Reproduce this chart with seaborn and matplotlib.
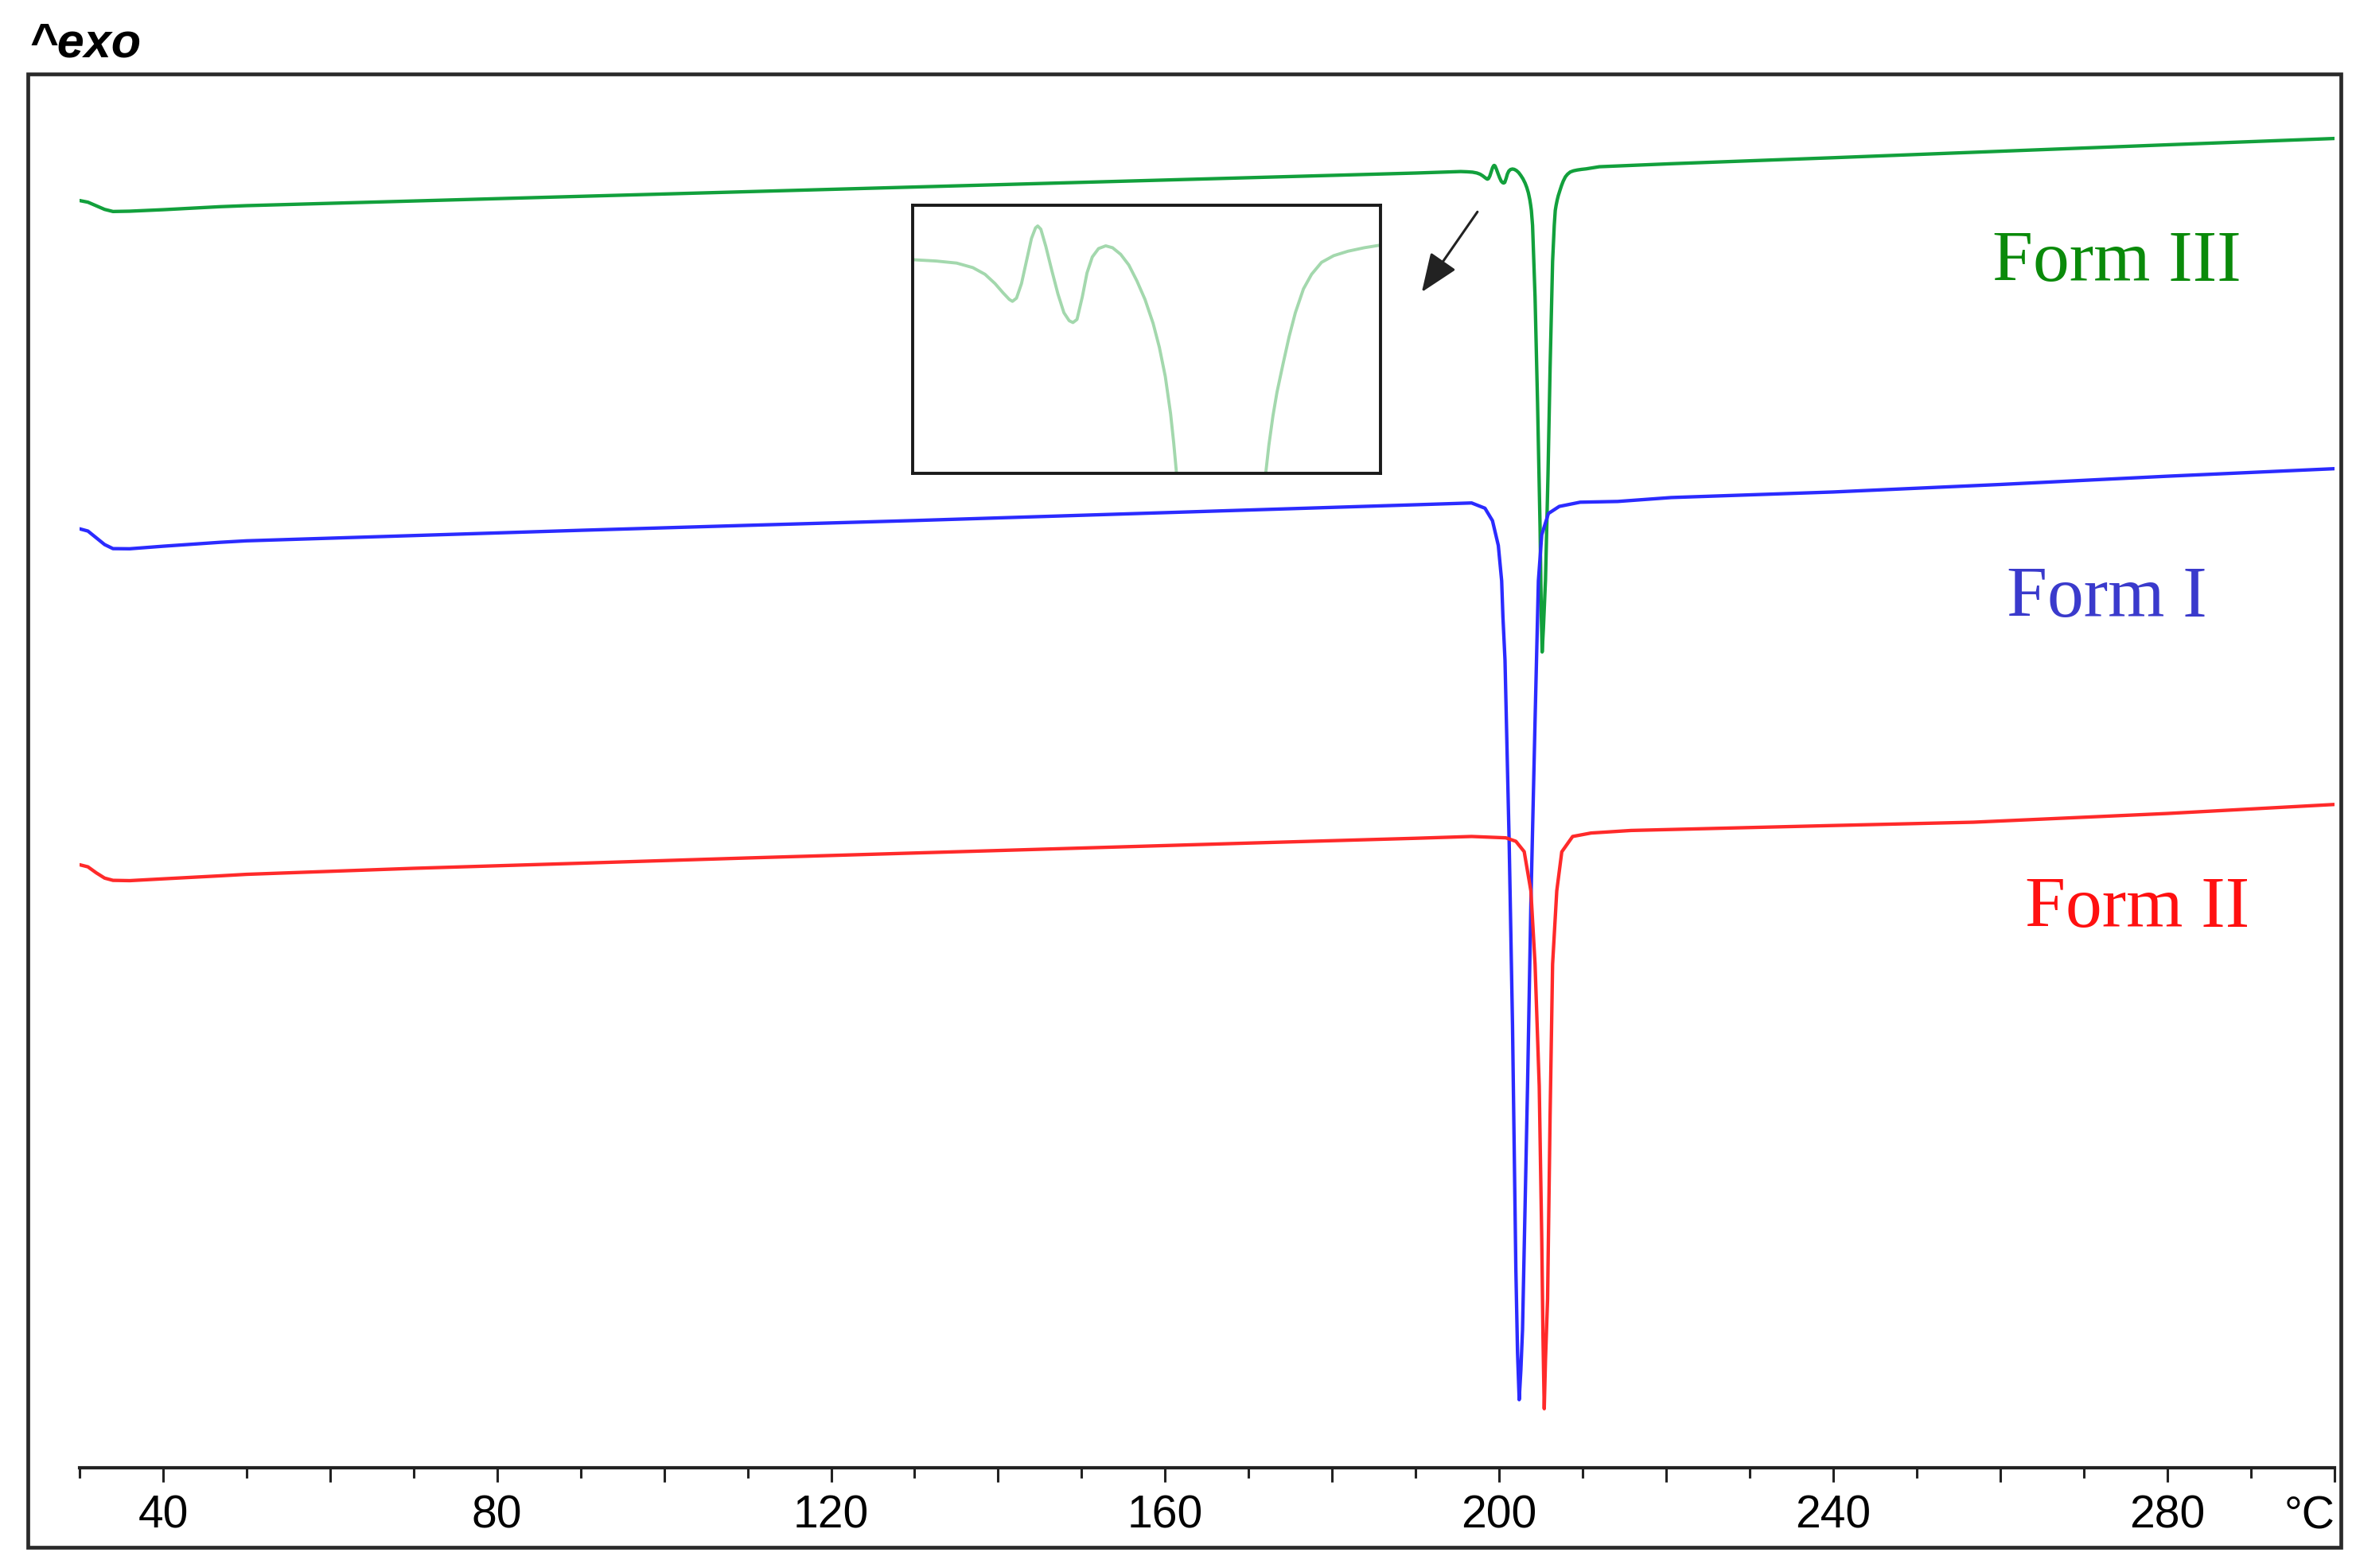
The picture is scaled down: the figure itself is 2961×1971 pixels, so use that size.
import numpy as np
import pandas as pd
import matplotlib
matplotlib.use("Agg")
import matplotlib.pyplot as plt
import seaborn as sns
from matplotlib.ticker import MultipleLocator, FuncFormatter
from matplotlib.patches import Rectangle, FancyArrowPatch

# ---------------- data (temperature in °C, heat flow in arbitrary units, exo up) ----------------
form3_T = [30.0, 31.0, 32.0, 33.0, 34.0, 36.0, 40.0, 46.8, 50.0, 70.0, 90.0, 110.0, 130.0, 150.0, 170.0, 190.0,
           195.40, 196.15, 196.81, 197.33, 197.72, 198.04, 198.30, 198.50, 198.60, 198.73, 198.89, 199.04,
           199.21, 199.34, 199.41, 199.51, 199.67, 199.86, 200.06, 200.25, 200.42, 200.54, 200.67, 200.84,
           200.99, 201.16, 201.36, 201.59, 201.81, 202.07, 202.33, 202.59, 202.85, 203.11, 203.31, 203.50,
           203.67, 203.77, 203.86,
           204.00, 204.30, 204.60, 204.90, 205.05, 205.15, 205.30, 205.55, 205.85, 206.10, 206.40, 206.60,
           206.72, 206.82, 206.95, 207.08, 207.28, 207.47, 207.67, 207.93, 208.19, 208.51, 208.90, 209.36,
           209.88, 210.40,
           212.0, 220.6, 240.0, 260.0, 280.0, 300.0]
form3_HF = [-13.35, -13.46, -13.70, -13.94, -14.08, -14.06, -13.96, -13.76, -13.69, -13.38, -13.07, -12.76,
            -12.45, -12.14, -11.83, -11.52,
            -11.420, -11.436, -11.461, -11.516, -11.597, -11.709, -11.822, -11.902, -11.925, -11.886, -11.709,
            -11.452, -11.162, -11.034, -11.011, -11.050, -11.259, -11.548, -11.838, -12.063, -12.160, -12.182,
            -12.144, -11.870, -11.581, -11.387, -11.285, -11.252, -11.275, -11.355, -11.484, -11.677, -11.902,
            -12.192, -12.482, -12.835, -13.286, -13.640, -14.010,
            -15.00, -19.76, -26.85, -35.10, -41.00, -43.40, -41.80, -38.60, -31.60, -24.50, -17.40, -15.00,
            -14.010, -13.672, -13.318, -13.029, -12.675, -12.353, -12.063, -11.774, -11.597, -11.452, -11.371,
            -11.317, -11.275, -11.243,
            -11.10, -10.90, -10.50, -10.07, -9.64, -9.22]

form1_T = [30.0, 31.0, 32.0, 33.0, 34.0, 36.0, 40.0, 46.8, 50.0, 70.0, 90.0, 110.0, 130.0, 150.0, 170.0, 190.0,
           196.7, 198.3, 199.2, 199.9, 200.3, 200.45, 200.7, 201.2, 201.6, 202.0, 202.2, 202.4, 202.6, 202.8,
           203.4, 203.8, 204.3, 204.7, 205.1, 205.9, 207.2, 209.7, 214.2, 220.6, 240.0, 260.0, 280.0, 300.0]
form1_HF = [-35.20, -35.35, -35.80, -36.25, -36.52, -36.53, -36.36, -36.10, -36.00, -35.65, -35.30, -34.97,
            -34.65, -34.30, -33.95, -33.60, -33.48, -33.83, -34.66, -36.31, -38.66, -41.04, -43.93, -56.08,
            -68.24, -84.45, -90.00, -93.17, -91.20, -88.50, -72.30, -60.15, -47.98, -38.66, -35.60, -34.18,
            -33.71, -33.43, -33.38, -33.12, -32.75, -32.25, -31.70, -31.20]

form2_T = [30.0, 31.0, 32.0, 33.0, 34.0, 36.0, 40.0, 46.8, 50.0, 70.0, 90.0, 110.0, 130.0, 150.0, 170.0, 190.0,
           196.7, 200.8, 202.0, 203.0, 203.8, 204.3, 204.8, 205.1, 205.25, 205.4, 205.55, 205.8, 206.1, 206.4,
           206.9, 207.5, 208.8, 211.0, 215.8, 240.0, 256.8, 280.0, 300.0]
form2_HF = [-57.56, -57.70, -58.10, -58.45, -58.60, -58.62, -58.50, -58.30, -58.20, -57.80, -57.46, -57.11,
            -56.78, -56.45, -56.12, -55.80, -55.68, -55.77, -56.00, -56.69, -59.30, -64.18, -72.30, -82.40,
            -89.00, -93.77, -90.50, -86.47, -74.30, -64.18, -59.30, -56.70, -55.68, -55.45, -55.28, -54.95,
            -54.73, -54.15, -53.55]

form_names = ["Form III", "Form I", "Form II"]
tick_labels_every = 40

# ---------------- styling ----------------
W, H = 2961, 1971
DPI = 200
sns.set_theme(style="white")
plt.rcParams["font.family"] = ["Liberation Sans", "DejaVu Sans"]

line_colors = {"Form III": "#12a03c", "Form I": "#2b2bff", "Form II": "#ff2a2a"}
text_colors = {"Form III": "#0a8a0a", "Form I": "#3a3acc", "Form II": "#ff1010"}

df = pd.concat([
    pd.DataFrame({"T": form3_T, "HF": form3_HF, "form": "Form III"}),
    pd.DataFrame({"T": form1_T, "HF": form1_HF, "form": "Form I"}),
    pd.DataFrame({"T": form2_T, "HF": form2_HF, "form": "Form II"}),
], ignore_index=True)

fig = plt.figure(figsize=(W / DPI, H / DPI), dpi=DPI)
fig.patch.set_facecolor("white")

# main axes (pixel geometry of reference, full resolution)
x0, x1 = 100.0, 2933.6       # 30 °C .. 300 °C
y_top, y_bot = 92.5, 1845.0  # frame top .. axis line
ax = fig.add_axes([x0 / W, 1 - y_bot / H, (x1 - x0) / W, (y_bot - y_top) / H])
ax.set_facecolor("none")

sns.lineplot(data=df, x="T", y="HF", hue="form", palette=line_colors, estimator=None,
             sort=False, legend=False, ax=ax, linewidth=1.55)

ax.set_xlim(30, 300)
ax.set_ylim(-97.7, -4.9)
for s in ["top", "right", "left"]:
    ax.spines[s].set_visible(False)
ax.spines["bottom"].set_color("#222222")
ax.spines["bottom"].set_linewidth(1.5)
ax.set_yticks([])
ax.set_xlabel("")
ax.set_ylabel("")
ax.xaxis.set_major_locator(MultipleLocator(20))
ax.xaxis.set_minor_locator(MultipleLocator(10))
ax.xaxis.set_major_formatter(FuncFormatter(
    lambda v, p: f"{int(round(v))}" if int(round(v)) % tick_labels_every == 0 else ""))
ax.tick_params(axis="x", which="major", bottom=True, length=6.6, width=1.1, direction="out",
               color="#222222", labelsize=20.5, pad=5.5, labelcolor="black")
ax.tick_params(axis="x", which="minor", bottom=True, length=4.7, width=1.1, direction="out",
               color="#222222")

# unit label
fig.text(2903 / W, 1 - 1921.5 / H, "°C", ha="center", va="baseline", fontsize=20.5, color="black")

# outer frame
fig.add_artist(Rectangle((35 / W, 1 - 1945 / H), (2942 - 35) / W, (1945 - 93) / H,
                         transform=fig.transFigure, fill=False, lw=1.7, ec="#2a2a2a"))

# ^exo
fig.text(36 / W, 1 - 72 / H, "^exo", ha="left", va="baseline", fontsize=22,
         fontweight="bold", fontstyle="italic", color="black")

# form labels
label_pos = {"Form III": (2660, 353), "Form I": (2648, 775), "Form II": (2686, 1165)}
for name in form_names:
    px, py = label_pos[name]
    fig.text(px / W, 1 - py / H, name, ha="center", va="baseline", fontsize=33,
             family=["Liberation Serif", "DejaVu Serif"], color=text_colors[name])

# inset (magnified Form III around 195-210 °C)
ix0, iy0, ix1, iy1 = 1147, 258, 1735, 595
axins = fig.add_axes([ix0 / W, 1 - iy1 / H, (ix1 - ix0) / W, (iy1 - iy0) / H])
axins.set_facecolor("white")
sns.lineplot(data=df[df["form"] == "Form III"], x="T", y="HF", color="#a3d8ad",
             estimator=None, sort=False, legend=False, ax=axins, linewidth=1.4)
axins.set_xlim(195.4, 210.4)
axins.set_ylim(-14.01, -10.76)
axins.set_xticks([])
axins.set_yticks([])
axins.set_xlabel("")
axins.set_ylabel("")
for s in axins.spines.values():
    s.set_visible(True)
    s.set_color("#1a1a1a")
    s.set_linewidth(1.4)

# arrow pointing to inset
arrow = FancyArrowPatch((1860 / W, 1 - 261.7 / H), (1783.7 / W, 1 - 371.7 / H),
                        transform=fig.transFigure, arrowstyle="-|>,head_length=1.0,head_width=0.4",
                        mutation_scale=15, color="#222222", lw=1.1)
fig.add_artist(arrow)

fig.savefig("out.png", dpi=DPI, facecolor="white")
